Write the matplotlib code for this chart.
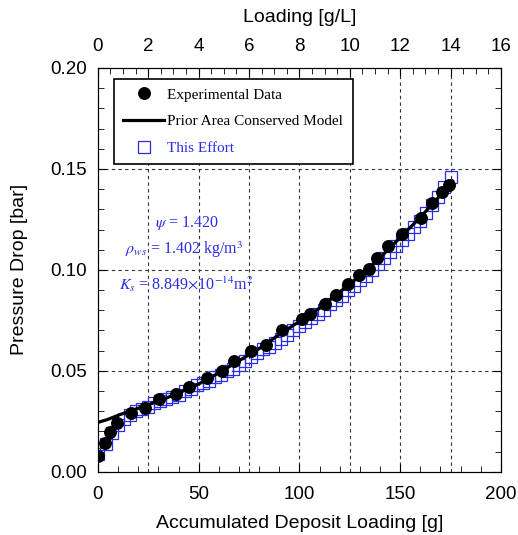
import matplotlib.pyplot as plt
from matplotlib.ticker import MultipleLocator

plt.rcParams['font.family'] = ['Liberation Sans', 'DejaVu Sans']
plt.rcParams['mathtext.fontset'] = 'stix'

# Experimental data (circles)
exp_x = [0, 3.5, 6, 9.3, 16.2, 23.3, 30.3, 38.7, 45, 54, 61.4, 67.5, 75.9, 83.4,
         91.5, 101.4, 105.4, 112.7, 118, 124.2, 129.7, 134.5, 138.3, 144.1, 151,
         160.1, 165.8, 170.9, 174.2]
exp_y = [0.008, 0.0144, 0.0198, 0.0243, 0.0292, 0.0318, 0.0361, 0.0386, 0.0422,
         0.0465, 0.0501, 0.055, 0.060, 0.0629, 0.0701, 0.0756, 0.0784, 0.0832,
         0.0876, 0.0931, 0.0974, 0.1006, 0.1058, 0.1119, 0.1177, 0.1259, 0.1333,
         0.1388, 0.1422]

# Prior area conserved model (line)
model_x = [0, 5, 10, 20, 30, 40, 50, 60, 70, 80, 90, 100, 110, 120, 130, 140,
           150, 160, 170, 176]
model_y = [0.0245, 0.026, 0.028, 0.0315, 0.035, 0.039, 0.0435, 0.049, 0.055,
           0.061, 0.068, 0.0745, 0.081, 0.089, 0.097, 0.106, 0.116, 0.126,
           0.137, 0.144]

# This effort (squares)
sq_x = [0, 4, 7, 10, 13, 16, 19, 22, 25, 28, 31, 34, 37, 40, 43, 46, 49, 52, 55,
        58, 61, 64, 67, 70, 73, 76, 79, 82, 85, 88, 91, 94, 97, 100, 103, 106,
        109, 112, 115, 118, 121, 124, 127, 130, 133, 136, 139, 142, 145, 148,
        151, 154, 157, 160, 163, 166, 169, 172, 175]
sq_y = [0.009, 0.014, 0.019, 0.023, 0.026, 0.028, 0.030, 0.031, 0.032, 0.034,
        0.035, 0.036, 0.037, 0.038, 0.040, 0.041, 0.043, 0.044, 0.045, 0.047,
        0.048, 0.050, 0.051, 0.053, 0.055, 0.057, 0.059, 0.061, 0.062, 0.064,
        0.066, 0.068, 0.070, 0.072, 0.074, 0.076, 0.078, 0.080, 0.083, 0.085,
        0.087, 0.090, 0.092, 0.095, 0.097, 0.100, 0.103, 0.106, 0.109, 0.112,
        0.115, 0.118, 0.121, 0.124, 0.128, 0.132, 0.136, 0.141, 0.146]

blue = '#2b2bea'

fig = plt.figure(figsize=(5.18, 5.35), dpi=100)
ax = fig.add_axes([0.189, 0.118, 0.778, 0.755])

# Dashed grid
for gx in [25, 50, 75, 100, 125, 150, 175]:
    ax.axvline(gx, color='#333333', lw=0.8, linestyle=(0, (3, 3)), zorder=0)
for gy in [0.05, 0.10, 0.15]:
    ax.axhline(gy, color='#333333', lw=0.8, linestyle=(0, (3, 3)), zorder=0)

ax.plot(sq_x, sq_y, linestyle='none', marker='s', ms=8.5, mfc='none',
        mec=blue, mew=0.9, label='This Effort', zorder=2)
ax.plot(exp_x, exp_y, linestyle='none', marker='o', ms=8.3, color='black',
        label='Experimental Data', zorder=3)
ax.plot(model_x, model_y, color='black', lw=2.3,
        label='Prior Area Conserved Model', zorder=4)

ax.set_xlim(0, 200)
ax.set_ylim(0, 0.2)
ax.xaxis.set_major_locator(MultipleLocator(50))
ax.xaxis.set_minor_locator(MultipleLocator(10))
ax.yaxis.set_major_locator(MultipleLocator(0.05))
ax.yaxis.set_minor_locator(MultipleLocator(0.01))
ax.yaxis.set_major_formatter(plt.FormatStrFormatter('%.2f'))
ax.tick_params(which='both', direction='in', right=True, top=False)
ax.tick_params(which='major', length=6, labelsize=13.5)
ax.tick_params(which='minor', length=4)
ax.tick_params(axis='x', which='major', pad=10)
ax.tick_params(axis='y', which='major', pad=8)
ax.set_xlabel('Accumulated Deposit Loading [g]', fontsize=14, labelpad=9)
ax.set_ylabel('Pressure Drop [bar]', fontsize=14, labelpad=16)

# Top axis in g/L
ax2 = ax.twiny()
ax2.set_xlim(0, 16)
ax2.xaxis.set_major_locator(MultipleLocator(2))
ax2.xaxis.set_minor_locator(MultipleLocator(0.5))
ax2.tick_params(which='both', direction='in')
ax2.tick_params(which='major', length=6, labelsize=13.5, pad=9)
ax2.tick_params(which='minor', length=4)
ax2.set_xlabel('Loading [g/L]', fontsize=14, labelpad=12)

# Legend
h, l = ax.get_legend_handles_labels()
order = [1, 2, 0]
leg = ax.legend([h[i] for i in order], [l[i] for i in order],
                loc='upper left', bbox_to_anchor=(0.04, 0.973),
                borderaxespad=0, fancybox=False,
                edgecolor='black', framealpha=1, borderpad=0.6,
                labelspacing=0.85, handlelength=2.7, handletextpad=0.2,
                prop={'family': 'Liberation Serif', 'size': 11})
leg.get_frame().set_linewidth(1.2)
leg.get_texts()[2].set_color(blue)

# Fit parameters
tkw = dict(color=blue, fontsize=11.5, family='Liberation Serif', ha='center',
           va='baseline')
ax.text(44, 0.1214, r'$\psi$ = 1.420', **tkw)
ax.text(43, 0.1079, r'$\rho_{ws}$ = 1.402 kg/m$^3$', **tkw)
ax.text(44, 0.0901, r'$K_s$ = 8.849$\times$10$^{-14}$m$^2$', **tkw)

plt.savefig('out.png', dpi=100)
